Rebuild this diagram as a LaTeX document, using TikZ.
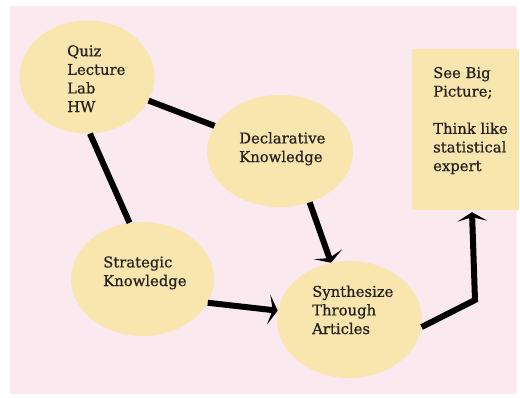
\documentclass[tikz,border=0pt]{standalone}
\usepackage{fontspec}
\setmainfont{DejaVu Serif}[BoldFont={DejaVu Serif},BoldFeatures={FakeBold=0.8}]
\usetikzlibrary{shapes.geometric,arrows.meta}
\definecolor{bgpink}{HTML}{FAE9EE}
\definecolor{fillyel}{HTML}{F9E6AF}
\definecolor{txtcol}{HTML}{26221E}
\begin{document}
\begin{tikzpicture}[x=1pt,y=-1pt,
  blob/.style={ellipse, fill=fillyel, draw=none, inner sep=0},
  txt/.style={font=\fontsize{14.8}{18.6}\selectfont\bfseries, align=left, inner sep=0, anchor=base west, text=txtcol},
  link/.style={line width=6pt},
  arr/.style={line width=6pt, -{Stealth[length=9pt,width=30pt,inset=4pt]}}]
\useasboundingbox (0,0) rectangle (520,397);
\fill[white] (0,0) rectangle (520,397);
\fill[bgpink] (10,6) rectangle (517,394);
% shapes
\node[blob, minimum width=135pt, minimum height=113pt] (quiz) at (87,77) {};
\node[blob, minimum width=146pt, minimum height=112pt] (decl) at (280,151) {};
\node[blob, minimum width=143pt, minimum height=114pt] (strat) at (142.5,279) {};
\node[blob, minimum width=145pt, minimum height=117pt] (synth) at (349.5,319.5) {};
\node[fill=fillyel, draw=none, inner sep=0, minimum width=107pt, minimum height=161pt] (box) at (465.5,129.5) {};
% texts (anchored at the baseline of the last line)
\node[txt] (tquiz) at (67,112) {Quiz\\Lecture\\Lab\\HW};
\node[txt] (tdecl) at (239,162) {Declarative\\Knowledge};
\node[txt] (tstrat) at (103,286) {Strategic\\Knowledge};
\node[txt] (tsynth) at (312,334) {Synthesize\\Through\\Articles};
\node[txt] (tbox) at (433,171) {See Big\\Picture;\\[18.6pt]Think like\\statistical\\expert};
% connectors
\draw[link] (quiz) -- (decl);
\draw[link] (quiz.-87) -- (strat.103);
\draw[arr] (decl.-60.5) -- (synth.108.7);
\draw[arr] (strat.-20.4) -- (synth.173.6);
\coordinate (bend) at (475,300);
\draw[arr] (synth.-6.8) -- (bend) -- ([xshift=6.5pt,yshift=-2pt]box.south);
\end{tikzpicture}
\end{document}
